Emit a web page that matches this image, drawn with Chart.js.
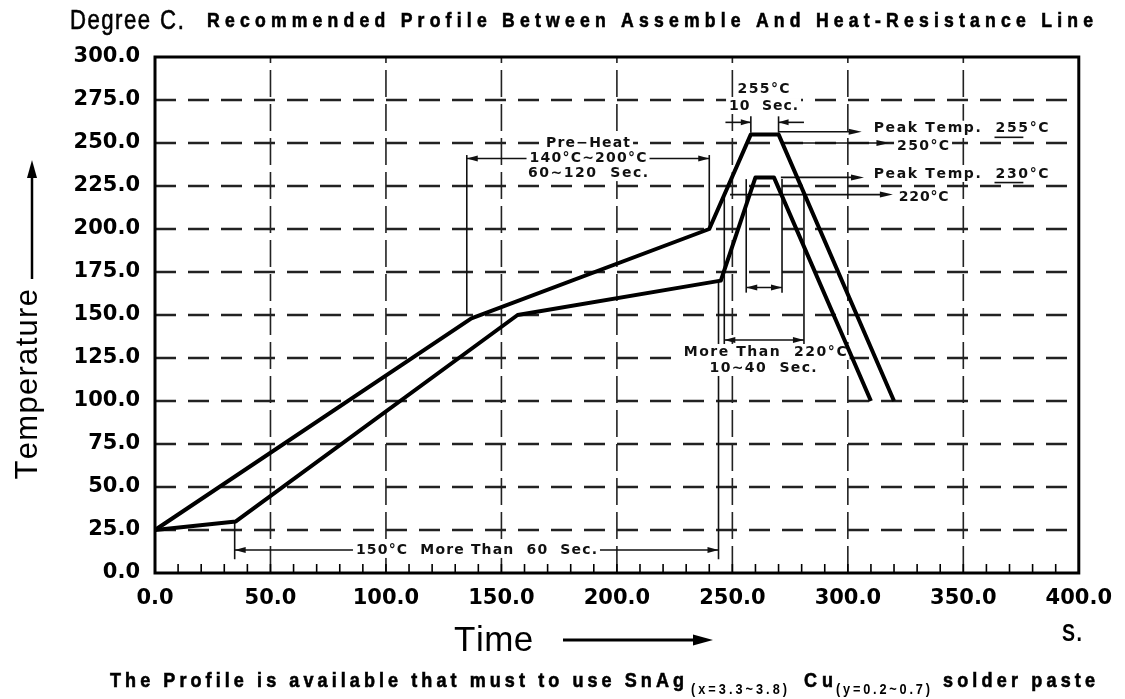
<!DOCTYPE html>
<html>
<head>
<meta charset="utf-8">
<script src="https://cdn.jsdelivr.net/npm/chart.js@4"></script>
<style>
html, body { margin: 0; padding: 0; background: #fff; }
</style>
</head>
<body>
<canvas id="myChart" width="1125" height="699"></canvas>
<script>
var timeTicks = [0, 50, 100, 150, 200, 250, 300, 350, 400];
var tempTicks = [0, 25, 50, 75, 100, 125, 150, 175, 200, 225, 250, 275, 300];

// upper profile line (s, degC)
var upperTime = [0, 137, 240, 258, 270, 320];
var upperTemp = [25, 148, 200, 255, 255, 100];
// lower profile line
var lowerTime = [0, 35, 157, 245, 260, 268, 310];
var lowerTemp = [25, 30, 150, 170, 230, 230, 100];

function toPoints(xs, ys) {
    return xs.map(function (t, i) { return { x: t, y: ys[i] }; });
}

function seg(ctx, x1, y1, x2, y2) {
    ctx.beginPath();
    ctx.moveTo(x1, y1);
    ctx.lineTo(x2, y2);
    ctx.stroke();
}

// arrow head with tip at x,y pointing along ang
function head(ctx, x, y, ang, len, w) {
    var c = Math.cos(ang), s = Math.sin(ang);
    ctx.beginPath();
    ctx.moveTo(x, y);
    ctx.lineTo(x - len * c + w * s, y - len * s - w * c);
    ctx.lineTo(x - len * c - w * s, y - len * s + w * c);
    ctx.closePath();
    ctx.fill();
}

// text letter spaced (or squeezed) to a width; sx narrows the glyphs, heavy thickens them
function spaced(ctx, text, x, y, w, align, bg, sx, heavy) {
    sx = sx || 1;
    var left = align === 'center' ? x - w / 2 : x;
    if (bg) {
        ctx.save();
        ctx.fillStyle = '#fff';
        ctx.fillRect(left - 3, y - 8, w + 6, 16);
        ctx.restore();
    }
    ctx.textAlign = 'left';
    ctx.textBaseline = 'middle';
    var put = function (s, px, max) {
        ctx.save();
        ctx.translate(px, y);
        ctx.scale(sx, 1);
        if (max) ctx.fillText(s, 0, 0, max); else ctx.fillText(s, 0, 0);
        if (heavy) {
            ctx.lineWidth = heavy;
            ctx.strokeStyle = ctx.fillStyle;
            if (max) ctx.strokeText(s, 0, 0, max); else ctx.strokeText(s, 0, 0);
        }
        ctx.restore();
    };
    var nat = ctx.measureText(text).width * sx;
    if (nat >= w || text.length < 2) {
        put(text, left, w / sx);
        return;
    }
    var gap = (w - nat) / (text.length - 1);
    var cx = left;
    for (var i = 0; i < text.length; i++) {
        put(text[i], cx);
        cx += ctx.measureText(text[i]).width * sx + gap;
    }
}

var noteFont = 'bold 14px "DejaVu Sans"';

var profilePlugin = {
    id: 'profile',
    beforeDatasetsDraw: function (chart) {
        var ctx = chart.ctx, xs = chart.scales.x, ys = chart.scales.y, a = chart.chartArea;
        var X = function (t) { return xs.getPixelForValue(t); };
        var Y = function (T) { return ys.getPixelForValue(T); };
        ctx.save();
        // grid
        ctx.strokeStyle = '#222';
        ctx.lineWidth = 2.4;
        ctx.setLineDash([21, 12]);
        tempTicks.forEach(function (v) {
            if (v > 0 && v < 300) seg(ctx, a.left, Y(v), a.right, Y(v));
        });
        ctx.lineWidth = 1.6;
        ctx.setLineDash([27, 7]);
        timeTicks.forEach(function (v) {
            if (v > 0 && v < 400) seg(ctx, X(v), a.bottom, X(v), a.top);
        });
        ctx.setLineDash([]);

        // extension lines
        ctx.strokeStyle = '#111';
        ctx.fillStyle = '#111';
        ctx.lineWidth = 1.6;
        [[135, 150, 135, 243], [240, 200, 240, 243],
         [258, 256, 258, 265.5], [270, 256, 270, 265.5],
         [246.5, 220, 246.5, 132], [281, 220, 281, 132],
         [256, 229, 256, 163], [271.5, 229, 271.5, 163],
         [34.5, 30, 34.5, 8], [244, 170, 244, 8]].forEach(function (l) {
            seg(ctx, X(l[0]), Y(l[1]), X(l[2]), Y(l[3]));
        });

        // dimension lines, arrows out to the extension lines
        [[135, 240, 241], [246.5, 281, 135.5], [256, 271.5, 166], [34.5, 244, 13.4]].forEach(function (d) {
            var x1 = X(d[0]), x2 = X(d[1]), y = Y(d[2]);
            seg(ctx, x1, y, x2, y);
            head(ctx, x1, y, Math.PI, 11, 3);
            head(ctx, x2, y, 0, 11, 3);
        });

        // 10 sec at peak, arrows from outside
        seg(ctx, X(247), Y(262), X(258), Y(262));
        head(ctx, X(258), Y(262), 0, 10, 3);
        seg(ctx, X(281), Y(262), X(270), Y(262));
        head(ctx, X(270), Y(262), Math.PI, 10, 3);

        // leaders to the right hand labels
        [[270, 306, 256.5], [272, 318, 250], [271, 307, 230], [249, 319.5, 220]].forEach(function (d) {
            seg(ctx, X(d[0]), Y(d[2]), X(d[1]) - 8, Y(d[2]));
            head(ctx, X(d[1]), Y(d[2]), 0, 13, 3);
        });

        // notes
        ctx.font = noteFont;
        spaced(ctx, 'Pre\u2212Heat', X(187.5), Y(250), 84, 'center', true);
        spaced(ctx, '140\u00b0C~200\u00b0C', X(187.5), Y(241), 117, 'center', true);
        spaced(ctx, '60~120  Sec.', X(187.5), Y(232.5), 120, 'center', true);
        spaced(ctx, '255\u00b0C', X(263.5), Y(281), 52, 'center', true);
        spaced(ctx, '10  Sec.', X(263.5), Y(271.5), 69, 'center', true);
        spaced(ctx, 'Peak Temp.  255\u00b0C', X(311.2), Y(258.3), 173, 'left', true);
        spaced(ctx, '250\u00b0C', X(321.3), Y(248.3), 52, 'left', true);
        spaced(ctx, 'Peak Temp.  230\u00b0C', X(311.2), Y(232), 173, 'left', true);
        spaced(ctx, '220\u00b0C', X(322), Y(218.6), 50, 'left', true);
        spaced(ctx, 'More Than  220\u00b0C', X(264.2), Y(128.5), 163, 'center', true);
        spaced(ctx, '10~40  Sec.', X(263.3), Y(119.2), 107, 'center', true);
        spaced(ctx, '150\u00b0C  More Than  60  Sec.', X(139.2), Y(13.4), 241, 'center', true);

        // underline peak values
        seg(ctx, X(363.5), Y(253.3), X(376), Y(253.3));
        seg(ctx, X(363.5), Y(227), X(376), Y(227));
        ctx.restore();
    },
    afterDatasetsDraw: function (chart) {
        var ctx = chart.ctx, xs = chart.scales.x, a = chart.chartArea;
        ctx.save();
        ctx.strokeStyle = '#000';
        ctx.lineWidth = 3;
        ctx.strokeRect(a.left, a.top, a.right - a.left, a.bottom - a.top);
        ctx.lineWidth = 1.6;
        for (var t = 10; t < 400; t += 10) {
            var x = xs.getPixelForValue(t);
            seg(ctx, x, a.bottom, x, a.bottom - 9);
        }
        ctx.restore();
    },
    afterDraw: function (chart) {
        var ctx = chart.ctx;
        ctx.save();
        ctx.fillStyle = '#000';
        ctx.strokeStyle = '#000';
        // title
        ctx.font = '27px "Liberation Sans"';
        spaced(ctx, 'Degree', 70, 22, 80, 'left', false, 0.82, 0.6);
        spaced(ctx, 'C.', 160, 22, 24, 'left', false, 0.82, 0.6);
        ctx.font = 'bold 20px "Liberation Sans"';
        spaced(ctx, 'Recommended Profile Between Assemble And Heat-Resistance Line', 207, 21, 886, 'left', false, 0.88, 0.6);

        // y title with arrow
        ctx.save();
        ctx.translate(28, 386);
        ctx.rotate(-Math.PI / 2);
        ctx.font = '31px "Liberation Sans"';
        spaced(ctx, 'Temperature', 0, 0, 187, 'center');
        ctx.restore();
        ctx.lineWidth = 2.5;
        seg(ctx, 32, 279, 32, 175);
        head(ctx, 32, 160, -Math.PI / 2, 18, 5);

        // x title with arrow
        ctx.font = '35px "Liberation Sans"';
        spaced(ctx, 'Time', 454, 641, 78, 'left');
        ctx.lineWidth = 3;
        seg(ctx, 563, 640, 698, 640);
        head(ctx, 713, 640, 0, 20, 5.5);
        ctx.font = 'bold 23px "Liberation Sans"';
        spaced(ctx, 'S.', 1062, 635, 20, 'left', false, 0.85);

        // footer
        ctx.font = 'bold 20px "Liberation Sans"';
        spaced(ctx, 'The Profile is available that must to use SnAg', 110, 681, 574, 'left', false, 0.9, 0.6);
        spaced(ctx, 'Cu', 804, 681, 29, 'left', false, 0.9, 0.6);
        spaced(ctx, 'solder paste', 943, 681, 152, 'left', false, 0.9, 0.6);
        ctx.font = 'bold 15px "Liberation Sans"';
        spaced(ctx, '(x=3.3~3.8)', 691, 690, 96, 'left', false, 0.85);
        spaced(ctx, '(y=0.2~0.7)', 836, 690, 94, 'left', false, 0.85);
        ctx.restore();
    }
};

var tickFont = { family: 'DejaVu Sans', size: 21, weight: 'bold' };

new Chart("myChart", {
    type: "line",
    data: {
        datasets: [{
            label: "Heat-Resistance Line",
            data: toPoints(upperTime, upperTemp),
            borderColor: "#000",
            borderWidth: 4,
            borderJoinStyle: "round",
            pointRadius: 0,
            tension: 0,
            fill: false
        }, {
            label: "Assemble Line",
            data: toPoints(lowerTime, lowerTemp),
            borderColor: "#000",
            borderWidth: 4,
            borderJoinStyle: "round",
            pointRadius: 0,
            tension: 0,
            fill: false
        }]
    },
    options: {
        responsive: false,
        animation: false,
        layout: { padding: { left: 0, top: 57, right: 42, bottom: 0 } },
        plugins: { legend: { display: false }, tooltip: { enabled: false } },
        scales: {
            x: {
                type: "linear",
                min: 0,
                max: 400,
                grid: { display: false, drawTicks: false },
                border: { display: false },
                afterBuildTicks: function (s) { s.ticks = timeTicks.map(function (v) { return { value: v }; }); },
                afterFit: function (s) { s.height = 126; },
                ticks: {
                    padding: 13,
                    color: "#000",
                    font: tickFont,
                    maxRotation: 0,
                    autoSkip: false,
                    callback: function (v) { return Number(v).toFixed(1); }
                }
            },
            y: {
                min: 0,
                max: 300,
                grid: { display: false, drawTicks: false },
                border: { display: false },
                afterBuildTicks: function (s) { s.ticks = tempTicks.map(function (v) { return { value: v }; }); },
                afterFit: function (s) { s.width = 155; },
                ticks: {
                    padding: 15,
                    color: "#000",
                    font: tickFont,
                    autoSkip: false,
                    callback: function (v) { return Number(v).toFixed(1); }
                }
            }
        }
    },
    plugins: [profilePlugin]
});
</script>
</body>
</html>
